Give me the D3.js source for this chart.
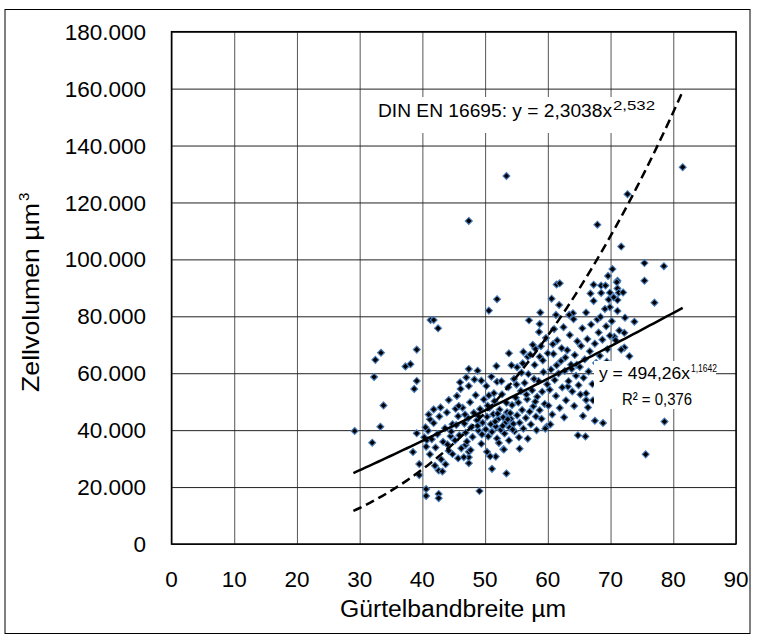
<!DOCTYPE html>
<html><head><meta charset="utf-8">
<script src="https://cdn.jsdelivr.net/npm/d3@7"></script>
<style>body{margin:0;background:#fff}</style>
</head><body>
<svg id="c" width="757" height="640"></svg>
<script>
const xTicks = [0,10,20,30,40,50,60,70,80,90];
const yTicks = [0,20000,40000,60000,80000,100000,120000,140000,160000,180000];
const xTitle = "Gürtelbandbreite µm";
const yTitle = "Zellvolumen µm";
// Gürtelbandbreite (µm)
const widths = [
29.2,33.3,32.0,38.5,39.5,39.5,42.6,43.7,40.6,40.6,42.6,42.6,49.1,51.1,53.4,55.5,45.7,44.8,47.4,47.4,47.4,46.9,50.3,51.7,52.9,59.8,39.1,40.7,
41.3,41.8,42.5,33.4,32.5,39.1,37.3,38.1,32.3,39.1,38.7,33.8,41.8,41.2,
51.9,50.6,58.8,57.0,58.7,60.6,61.3,53.8,56.1,56.8,58.0,60.0,58.7,55.1,47.4,48.8,49.4,51.9,46.1,47.4,44.2,45.3,
53.4,47.4,61.4,81.5,72.7,67.9,71.7,75.4,78.5,70.3,69.6,75.4,71.1,67.3,68.5,69.2,71.1,61.9,
69.9,71.3,77.0,71.1,69.9,64.0,73.8,72.2,70.6,72.2,66.1,66.1,63.2,64.8,66.0,75.6,78.6,67.5,
40.3,40.6,40.9,41.2,41.5,41.8,42.1,42.4,42.7,43.0,43.3,43.6,43.9,44.2,44.5,44.8,41.0,42.0,43.2,44.0,44.6,40.5,42.9,
45.2,45.4,45.7,45.9,46.2,46.4,46.7,46.9,47.1,47.3,47.6,47.8,48.0,48.2,48.5,48.7,48.9,49.2,49.4,49.6,49.8,45.5,46.0,46.6,47.0,47.7,48.3,49.0,49.5,45.8,46.8,48.8,
50.1,50.3,50.5,50.7,50.9,51.1,51.3,51.5,51.7,51.9,52.1,52.3,52.5,52.7,52.9,53.1,53.3,53.5,53.7,53.9,54.1,54.3,54.5,54.7,54.9,50.2,51.0,51.8,52.2,53.0,53.8,54.6,54.2,50.8,52.6,53.4,51.4,52.8,54.0,50.4,53.6,52.0,51.6,54.4,50.6,
55.1,55.3,55.5,55.7,55.9,56.1,56.3,56.5,56.7,56.9,57.1,57.3,57.5,57.7,57.9,58.1,58.3,58.5,58.7,58.9,59.1,59.3,59.5,59.7,59.9,55.4,56.0,56.8,57.6,58.2,59.0,59.6,55.8,57.2,58.6,56.6,57.8,59.2,55.0,58.0,
60.1,60.3,60.5,60.7,60.9,61.1,61.3,61.5,61.7,61.9,62.1,62.3,62.5,62.7,62.9,63.1,63.3,63.5,63.7,63.9,64.1,64.3,64.5,64.7,64.9,60.4,61.0,61.8,62.6,63.4,64.2,60.8,62.2,63.8,64.6,61.4,62.8,
65.1,65.3,65.5,65.7,65.9,66.1,66.3,66.5,66.7,66.9,67.1,67.3,67.5,67.7,67.9,68.1,68.3,68.5,68.7,68.9,69.1,69.3,69.5,69.7,69.9,65.6,66.4,67.2,68.0,68.8,65.2,66.8,68.4,69.4,
70.2,70.5,70.8,71.1,71.4,71.7,72.0,72.3,70.4,71.0,71.6,73.0
];
// Zellvolumen (µm³)
const volumes = [
39700,41200,35600,32300,28100,24200,25800,28000,19300,16900,17600,16100,18600,26400,24800,33500,30100,31600,28400,30500,32400,34800,32400,30700,33300,41200,38900,36500,
78700,78700,75800,67200,64700,68300,62400,63200,58700,57300,54500,48700,47300,43800,
86000,82000,81300,78600,77300,86200,80500,67000,67500,65800,68600,67000,65800,62100,61500,60900,57400,57000,54500,55500,50600,47500,
129300,113500,91200,132400,122900,112200,104500,98700,97600,96600,94200,92500,92500,91100,90800,90800,89800,91600,
88300,88300,84800,85700,83200,81100,78100,74200,72800,69000,52900,50600,55300,38200,37800,31500,43000,43300,
37500,34200,39800,31500,36800,42500,33900,38600,44800,29700,35900,40700,46200,32800,37900,42100,45500,27500,25500,35000,39500,41000,48000,
36400,41800,44900,38200,33600,47900,42300,39100,36000,44200,49800,41000,37600,46100,52300,43500,39900,47400,35200,42600,50800,52000,56800,30500,58500,33000,57800,44800,38500,48500,45500,41500,
40300,44700,37800,47900,42100,39400,45600,50200,41300,37100,43900,47200,40100,52600,44500,38800,42700,46300,55100,40900,44000,48800,42200,39600,51400,55500,58800,62500,35500,33200,36400,58000,62800,30800,57200,49600,53000,41500,46000,48600,43800,45800,43000,40200,52200,
45200,49700,42600,53800,47100,40500,56600,44300,50900,59700,46500,42000,54000,48400,62900,44800,51700,57300,47000,69500,53500,60400,49200,72400,56100,37500,63500,37000,70000,40000,44000,40500,60200,66500,74500,52500,58000,64500,56000,50000,
48600,54200,61300,45500,66800,57600,52000,71500,59900,47800,64300,55000,76200,60800,50500,68100,57200,73400,63000,53600,79000,66400,59100,71200,55800,42000,75500,84000,44500,80500,48500,70200,68800,61500,63000,62800,65500,
62200,69600,75800,58400,64900,81300,72000,60600,67700,77100,56200,85400,70400,63600,78900,74300,66100,88200,71800,60000,82600,76500,68400,85900,73200,45000,48000,50500,54000,42500,52500,88000,79800,64000,
78300,86700,71600,81900,75000,68300,88400,79500,62000,92000,58000,66000
];
const powerFit = {a:494.26, b:1.1642, from:29, to:81.5};
const dinFit = {a:2.3038, b:2.532, from:29, to:81.3};

const svg = d3.select("#c");
const W = 757, H = 640;
const m = {l:171.5, t:31.7, r:736, b:544};
const x = d3.scaleLinear().domain([0,90]).range([m.l, m.r]);
const y = d3.scaleLinear().domain([0,180000]).range([m.b, m.t]);
const de = d3.formatLocale({decimal:",", thousands:".", grouping:[3], currency:["","€"]});
const fmt = de.format(",.0f");
const FONT = "'Liberation Sans', Arial, sans-serif";

svg.append("rect").attr("x",0).attr("y",0).attr("width",W).attr("height",H).attr("fill","#fff");
svg.append("rect").attr("x",5).attr("y",9.5).attr("width",745).attr("height",624)
  .attr("fill","none").attr("stroke","#000").attr("stroke-width",1);

// grid
const gx = svg.append("g").attr("transform",`translate(0,${m.b})`)
  .call(d3.axisBottom(x).tickValues(xTicks).tickSize(-(m.b-m.t)).tickFormat(""));
gx.select(".domain").remove();
gx.selectAll("line").attr("stroke","#555").attr("stroke-width",1);
const gy = svg.append("g").attr("transform",`translate(${m.l},0)`)
  .call(d3.axisLeft(y).tickValues(yTicks).tickSize(-(m.r-m.l)).tickFormat(""));
gy.select(".domain").remove();
gy.selectAll("line").attr("stroke","#222").attr("stroke-width",1);

// tick labels
svg.append("g").selectAll("text").data(yTicks).join("text")
  .attr("x",146).attr("y",d=>y(d)).attr("dy","0.36em").attr("text-anchor","end")
  .attr("font-family",FONT).attr("font-size",22.5).attr("fill","#000").text(d=>fmt(d));
svg.append("g").selectAll("text").data(xTicks).join("text")
  .attr("x",d=>x(d)).attr("y",587).attr("text-anchor","middle")
  .attr("font-family",FONT).attr("font-size",22.5).attr("fill","#000").text(d=>d);

svg.append("text").attr("x",340).attr("y",617)
  .attr("font-family",FONT).attr("font-size",23.5).attr("fill","#000")
  .attr("textLength",226).attr("lengthAdjust","spacingAndGlyphs").text(xTitle);
const yt = svg.append("g").attr("transform","translate(39,392) rotate(-90)")
  .attr("font-family",FONT).attr("fill","#000");
yt.append("text").attr("x",0).attr("y",0).attr("font-size",24)
  .attr("textLength",189).attr("lengthAdjust","spacingAndGlyphs").text(yTitle);
yt.append("text").attr("x",191).attr("y",-10).attr("font-size",15).text("3");

// points
const pts = widths.map((w,i)=>({w, v:volumes[i]}));
const r = 3.5;
svg.append("g").selectAll("path").data(pts).join("path")
  .attr("d",d=>{const cx=x(d.w), cy=y(d.v); return `M${cx},${cy-r}L${cx+r},${cy}L${cx},${cy+r}L${cx-r},${cy}Z`;})
  .attr("fill","#000").attr("stroke","#4a7ebb").attr("stroke-width",1.1);

// plot border
svg.append("rect").attr("x",m.l).attr("y",m.t).attr("width",m.r-m.l).attr("height",m.b-m.t)
  .attr("fill","none").attr("stroke","#000").attr("stroke-width",1.5);

// label boxes (white background of trendline labels)
svg.append("rect").attr("x",372).attr("y",97).attr("width",290).attr("height",36).attr("fill","#fff");
svg.append("rect").attr("x",594).attr("y",361).attr("width",122).attr("height",48).attr("fill","#fff");

// fit lines
const line = d3.line().x(d=>x(d[0])).y(d=>y(d[1]));
function curve(f){ const n=80; return d3.range(n+1).map(i=>{const xv=f.from+(f.to-f.from)*i/n; return [xv, f.a*Math.pow(xv,f.b)];}); }
svg.append("path").attr("d",line(curve(powerFit))).attr("fill","none").attr("stroke","#000").attr("stroke-width",2.5);
svg.append("path").attr("d",line(curve(dinFit))).attr("fill","none").attr("stroke","#000").attr("stroke-width",2.5).attr("stroke-dasharray","9,5");

// annotations
const ann = svg.append("g").attr("font-family",FONT).attr("fill","#000");
ann.append("text").attr("x",378).attr("y",117).attr("font-size",18)
  .attr("textLength",234).attr("lengthAdjust","spacingAndGlyphs").text("DIN EN 16695: y = 2,3038x");
ann.append("text").attr("x",613).attr("y",110).attr("font-size",13.5)
  .attr("textLength",42).attr("lengthAdjust","spacingAndGlyphs").text("2,532");
ann.append("text").attr("x",599).attr("y",379).attr("font-size",17)
  .attr("textLength",91).attr("lengthAdjust","spacingAndGlyphs").text("y = 494,26x");
ann.append("text").attr("x",691).attr("y",372).attr("font-size",10)
  .attr("textLength",26).attr("lengthAdjust","spacingAndGlyphs").text("1,1642");
ann.append("text").attr("x",622).attr("y",405).attr("font-size",17)
  .attr("textLength",70).attr("lengthAdjust","spacingAndGlyphs").text("R² = 0,376");
</script>
</body></html>
